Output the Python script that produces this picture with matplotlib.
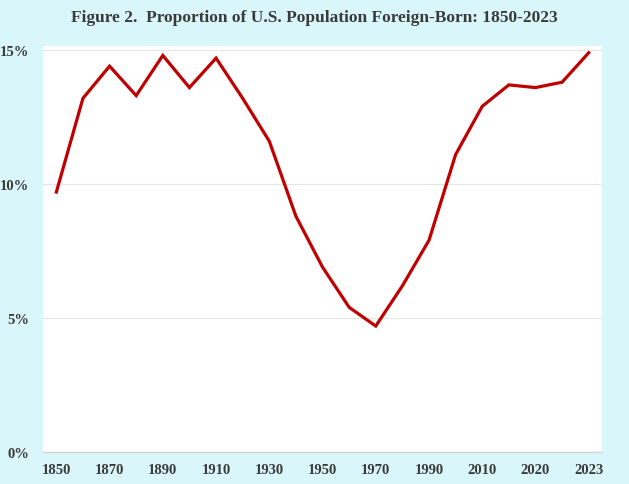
import matplotlib
matplotlib.use('Agg')
import matplotlib.pyplot as plt
from matplotlib.ticker import FuncFormatter

years = ['1850', '1860', '1870', '1880', '1890', '1900', '1910', '1920', '1930',
         '1940', '1950', '1960', '1970', '1980', '1990', '2000', '2010', '2015',
         '2020', '2022', '2023']
share = [9.7, 13.2, 14.4, 13.3, 14.8, 13.6, 14.7, 13.2, 11.6, 8.8, 6.9, 5.4,
         4.7, 6.2, 7.9, 11.1, 12.9, 13.7, 13.6, 13.8, 14.9]
shown = [0, 2, 4, 6, 8, 10, 12, 14, 16, 18, 20]

bg = '#d9f7fb'
txt = '#3a3a3a'
plt.rcParams['font.family'] = ['Liberation Serif', 'DejaVu Serif']

fig = plt.figure(figsize=(6.29, 4.85), dpi=100, facecolor=bg)
ax = fig.add_axes([0.0684, 0.066, 0.8887, 0.837])
ax.set_facecolor('white')

x = list(range(len(years)))
ax.plot(x, share, color='#c00000', lw=2.3, solid_joinstyle='miter')

ax.set_xlim(-0.5, len(years) - 0.5)
ax.set_ylim(0, 15.15)
ax.set_yticks([0, 5, 10, 15])
ax.yaxis.set_major_formatter(FuncFormatter(lambda v, p: '%d%%' % v))
ax.set_xticks(shown)
ax.set_xticklabels([years[i] for i in shown])

ax.grid(axis='y', color='#e6e6e6', lw=0.8)
ax.set_axisbelow(True)
for s in ['top', 'right', 'left']:
    ax.spines[s].set_visible(False)
ax.spines['bottom'].set_color('#d4d4d4')
ax.spines['bottom'].set_linewidth(1.0)

ax.tick_params(length=0, labelsize=10.5, labelcolor=txt)
ax.tick_params(axis='y', pad=10)
ax.tick_params(axis='x', pad=8)
for lab in ax.get_xticklabels() + ax.get_yticklabels():
    lab.set_fontweight('bold')

fig.text(0.5, 0.963, 'Figure 2.  Proportion of U.S. Population Foreign-Born: 1850-2023',
         ha='center', va='center', fontsize=12.5, fontweight='bold', color=txt)

fig.savefig('out.png', dpi=100, facecolor=bg)
